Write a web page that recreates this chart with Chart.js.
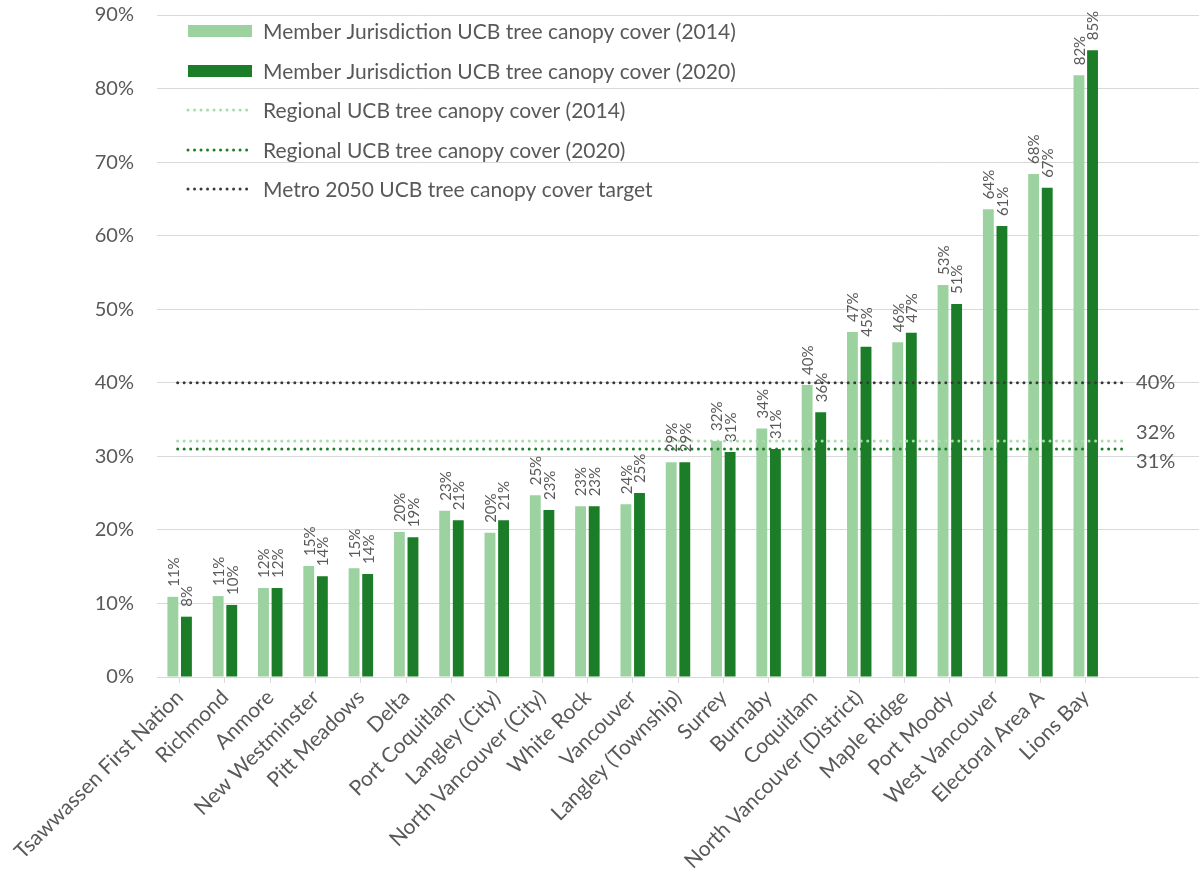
<!DOCTYPE html>
<html>
<head>
<meta charset="utf-8">
<script src="https://cdn.jsdelivr.net/npm/chart.js@4/dist/chart.umd.min.js"></script>
<style>
  html, body { margin: 0; padding: 0; background: #fff; }
  #wrap { width: 1199px; height: 877px; }
</style>
</head>
<body>
<div id="wrap"><canvas id="canopyChart"></canvas></div>
<script>
// 対象の自治体（左から昇順）
const categories = [
  'Tsawwassen First Nation', 'Richmond', 'Anmore', 'New Westminster', 'Pitt Meadows',
  'Delta', 'Port Coquitlam', 'Langley (City)', 'North Vancouver (City)', 'White Rock',
  'Vancouver', 'Langley (Township)', 'Surrey', 'Burnaby', 'Coquitlam',
  'North Vancouver (District)', 'Maple Ridge', 'Port Moody', 'West Vancouver',
  'Electoral Area A', 'Lions Bay'
]
// 右端の数値ラベル用の空きカテゴリ
const spacerCategories = ['', '']

const canopy2014 = [10.9, 11.0, 12.1, 15.1, 14.8, 19.7, 22.6, 19.6, 24.7, 23.2,
  23.5, 29.2, 32.1, 33.8, 39.7, 46.9, 45.5, 53.3, 63.6, 68.4, 81.8]
const canopy2020 = [8.2, 9.8, 12.1, 13.7, 14.0, 19.0, 21.3, 21.3, 22.7, 23.2,
  25.0, 29.2, 30.6, 31.0, 36.0, 44.9, 46.8, 50.7, 61.3, 66.5, 85.2]

// 基準線（地域平均と2050目標）
const refNames = [
  'Regional UCB tree canopy cover (2014)',
  'Regional UCB tree canopy cover (2020)',
  'Metro 2050 UCB tree canopy cover target'
]
const refValues = [32.1, 31.0, 40]

const barNames = [
  'Member Jurisdiction UCB tree canopy cover (2014)',
  'Member Jurisdiction UCB tree canopy cover (2020)'
]

const yTicks = [0, 10, 20, 30, 40, 50, 60, 70, 80, 90]

const textColor = '#595959'
const gridColor = '#d9d9d9'
const barColors = ['#9bd2a0', '#1b7d27']
const refColors = ['#a6dcaa', '#1b7d27', '#3a3a3a']
const refLabelShift = [-8, 13, 0]   // 右端ラベルの上下ずらし
const FONT = 'Lato'

const dotted = (ctx, color, x0, x1, y) => {
  ctx.save()
  ctx.strokeStyle = color
  ctx.lineWidth = 3
  ctx.lineCap = 'round'
  ctx.setLineDash([0.01, 6.5])
  ctx.beginPath()
  ctx.moveTo(x0, y)
  ctx.lineTo(x1, y)
  ctx.stroke()
  ctx.restore()
}

// 基準線と右端の数値
const refLines = {
  id: 'refLines',
  afterDatasetsDraw(chart) {
    const ctx = chart.ctx
    const xs = chart.scales.x
    const ys = chart.scales.y
    const x0 = xs.getPixelForValue(0) - 2
    const x1 = xs.getPixelForValue(categories.length) - 5
    ctx.save()
    ctx.font = '20px ' + FONT
    ctx.fillStyle = textColor
    ctx.textAlign = 'left'
    ctx.textBaseline = 'middle'
    refValues.forEach((v, i) => {
      const y = ys.getPixelForValue(v)
      dotted(ctx, refColors[i], x0, x1, y)
      ctx.fillText(Math.round(v) + '%', x1 + 10, y + refLabelShift[i])
    })
    ctx.restore()
  }
}

// 棒の上の縦書き数値
const barLabels = {
  id: 'barLabels',
  afterDatasetsDraw(chart) {
    const ctx = chart.ctx
    ctx.save()
    ctx.font = '15px ' + FONT
    ctx.fillStyle = textColor
    ctx.textAlign = 'left'
    ctx.textBaseline = 'middle'
    chart.data.datasets.forEach((ds, i) => {
      chart.getDatasetMeta(i).data.forEach((bar, j) => {
        ctx.save()
        ctx.translate(bar.x + 1, bar.y - 10)
        ctx.rotate(-Math.PI / 2)
        ctx.fillText(Math.round(ds.data[j]) + '%', 0, 0)
        ctx.restore()
      })
    })
    ctx.restore()
  }
}

// グラフ内左上の凡例
const insideLegend = {
  id: 'insideLegend',
  afterDraw(chart) {
    const ctx = chart.ctx
    const rows = [31, 71, 110, 150, 189]
    ctx.save()
    ctx.font = '21px ' + FONT
    ctx.textBaseline = 'middle'
    barNames.forEach((name, i) => {
      ctx.fillStyle = barColors[i]
      ctx.fillRect(188, rows[i] - 6, 64, 12)
      ctx.fillStyle = textColor
      ctx.fillText(name, 263, rows[i] + 1)
    })
    refNames.forEach((name, i) => {
      const y = rows[i + 2]
      dotted(ctx, refColors[i], 188, 252, y)
      ctx.fillStyle = textColor
      ctx.fillText(name, 263, y + 1)
    })
    ctx.restore()
  }
}

const draw = () => {
  const ctx = document.querySelector('#canopyChart')

  new Chart(ctx, {
    type: 'bar',
    data: {
      labels: categories.concat(spacerCategories),
      datasets: [
        { label: barNames[0], data: canopy2014, backgroundColor: barColors[0] },
        { label: barNames[1], data: canopy2020, backgroundColor: barColors[1] }
      ]
    },
    options: {
      responsive: true,
      maintainAspectRatio: false,
      animation: false,
      events: [],
      layout: { padding: { top: 15, right: 0, bottom: 0, left: 0 } },
      datasets: {
        bar: { categoryPercentage: 0.6, barPercentage: 0.8 }
      },
      plugins: {
        legend: { display: false },
        tooltip: { enabled: false }
      },
      scales: {
        x: {
          offset: true,
          grid: {
            offset: false,
            drawOnChartArea: false,
            drawTicks: true,
            tickLength: 6,
            tickColor: (c) => c.index >= categories.length ? 'rgba(0,0,0,0)' : gridColor
          },
          border: { color: gridColor },
          ticks: {
            autoSkip: false,
            maxRotation: 45,
            minRotation: 45,
            padding: 2,
            color: textColor,
            font: { family: FONT, size: 21 }
          },
          afterFit: (s) => { s.height = 200; s.paddingLeft = 0; s.paddingRight = 0 }
        },
        y: {
          min: 0,
          max: 90,
          grid: { color: gridColor, drawTicks: false },
          border: { display: false },
          ticks: {
            padding: 23,
            color: textColor,
            font: { family: FONT, size: 20 },
            callback: (v) => v + '%'
          },
          afterBuildTicks: (s) => { s.ticks = yTicks.map((v) => ({ value: v })) },
          afterFit: (s) => { s.width = 157; s.paddingTop = 0; s.paddingBottom = 0 }
        }
      }
    },
    plugins: [refLines, barLabels, insideLegend]
  })
}

document.fonts.load('18px ' + FONT).then(draw, draw)
</script>
</body>
</html>
